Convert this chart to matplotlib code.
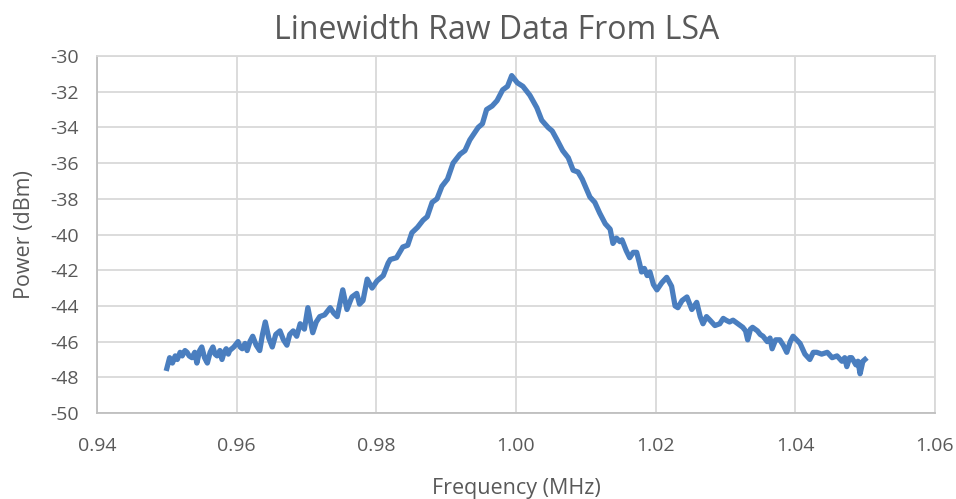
import matplotlib
matplotlib.use("Agg")
import matplotlib.pyplot as plt

# readings (MHz, dBm)
freq = [0.9500, 0.9504, 0.9508, 0.9512, 0.9515, 0.9519, 0.9522, 0.9526, 0.9529, 0.9532,
        0.9536, 0.9540, 0.9543, 0.9547, 0.9550, 0.9554, 0.9558, 0.9562, 0.9566, 0.9569,
        0.9572, 0.9576, 0.9579, 0.9582, 0.9585, 0.9588, 0.9590, 0.9596, 0.9602, 0.9605,
        0.9608, 0.9612, 0.9615, 0.9619, 0.9623, 0.9628, 0.9633, 0.9637, 0.9641, 0.9646,
        0.9651, 0.9656, 0.9662, 0.9667, 0.9672, 0.9676, 0.9681, 0.9686, 0.9691, 0.9697,
        0.9702, 0.9709, 0.9714, 0.9719, 0.9726, 0.9734, 0.9739, 0.9744, 0.9752, 0.9758,
        0.9765, 0.9772, 0.9776, 0.9781, 0.9787, 0.9794, 0.9801, 0.9810, 0.9817, 0.9820,
        0.9829, 0.9838, 0.9845, 0.9851, 0.9859, 0.9867, 0.9873, 0.9880, 0.9887, 0.9894,
        0.9902, 0.9910, 0.9920, 0.9927, 0.9934, 0.9946, 0.9952, 0.9958, 0.9966, 0.9973,
        0.9981, 0.9988, 0.9994, 1.0002, 1.0010, 1.0020, 1.0030, 1.0037, 1.0046, 1.0052,
        1.0059, 1.0067, 1.0075, 1.0082, 1.0089, 1.0095, 1.0106, 1.0113, 1.0120, 1.0128,
        1.0135, 1.0139, 1.0144, 1.0149, 1.0152, 1.0158, 1.0163, 1.0168, 1.0173, 1.0177,
        1.0180, 1.0184, 1.0188, 1.0192, 1.0197, 1.0202, 1.0209, 1.0216, 1.0223, 1.0228,
        1.0232, 1.0238, 1.0245, 1.0252, 1.0259, 1.0264, 1.0268, 1.0273, 1.0278, 1.0285,
        1.0292, 1.0297, 1.0301, 1.0306, 1.0311, 1.0318, 1.0325, 1.0329, 1.0332, 1.0336,
        1.0339, 1.0346, 1.0350, 1.0354, 1.0360, 1.0364, 1.0367, 1.0372, 1.0378, 1.0383,
        1.0388, 1.0393, 1.0397, 1.0402, 1.0407, 1.0414, 1.0421, 1.0426, 1.0431, 1.0438,
        1.0446, 1.0453, 1.0460, 1.0467, 1.0471, 1.0474, 1.0478, 1.0481, 1.0487, 1.0490,
        1.0493, 1.0497, 1.0500]
power = [-47.5, -46.9, -47.2, -46.8, -47.0, -46.6, -46.8, -46.5, -46.6, -46.8,
         -46.9, -46.6, -47.2, -46.5, -46.3, -46.9, -47.2, -46.6, -46.3, -46.7,
         -46.8, -46.5, -47.0, -46.6, -46.4, -46.7, -46.5, -46.3, -46.0, -46.3,
         -46.4, -46.1, -46.5, -46.0, -45.7, -46.2, -46.5, -45.6, -44.9, -45.8,
         -46.3, -45.6, -45.4, -45.9, -46.2, -45.6, -45.4, -45.7, -45.0, -45.3,
         -44.1, -45.5, -44.9, -44.6, -44.5, -44.1, -44.4, -44.6, -43.1, -44.2,
         -43.5, -43.3, -43.9, -43.7, -42.5, -43.0, -42.6, -42.3, -41.6, -41.4,
         -41.3, -40.7, -40.6, -39.9, -39.6, -39.2, -39.0, -38.2, -38.0, -37.3,
         -36.9, -36.0, -35.5, -35.3, -34.7, -34.0, -33.8, -33.0, -32.8, -32.5,
         -31.9, -31.7, -31.1, -31.5, -31.7, -32.2, -32.9, -33.6, -34.0, -34.2,
         -34.7, -35.3, -35.7, -36.4, -36.5, -36.9, -37.9, -38.2, -38.8, -39.4,
         -39.7, -40.5, -40.2, -40.4, -40.3, -40.9, -41.3, -41.0, -41.0, -41.6,
         -42.1, -41.9, -42.3, -42.1, -42.8, -43.1, -42.7, -42.4, -42.9, -44.0,
         -44.1, -43.7, -43.5, -44.2, -43.8, -44.6, -45.0, -44.6, -44.8, -45.1,
         -45.0, -44.7, -44.8, -44.9, -44.8, -45.0, -45.2, -45.4, -45.9, -45.3,
         -45.2, -45.4, -45.6, -45.7, -46.0, -45.8, -46.4, -45.9, -45.9, -46.2,
         -46.6, -46.0, -45.7, -45.9, -46.1, -46.7, -47.0, -46.6, -46.6, -46.7,
         -46.6, -46.9, -46.8, -47.1, -46.9, -47.4, -46.9, -46.9, -47.3, -47.1,
         -47.8, -47.1, -47.0]

x_ticks = [0.94, 0.96, 0.98, 1.00, 1.02, 1.04, 1.06]
y_ticks = [-50, -48, -46, -44, -42, -40, -38, -36, -34, -32, -30]

plt.rcParams["font.family"] = ["Open Sans", "DejaVu Sans"]
txt = "#595959"
grid_c = "#D9D9D9"

fig = plt.figure(figsize=(9.56, 4.99), dpi=100)
ax = fig.add_axes([0.1015, 0.1723, 0.8763, 0.7155])
ax.plot(freq, power, color="#4A7EBF", lw=3.8, solid_joinstyle="round")

ax.set_xlim(0.94, 1.06)
ax.set_ylim(-50, -30)
ax.set_xticks(x_ticks)
ax.set_xticklabels([f"{v:.2f}" for v in x_ticks])
ax.set_yticks(y_ticks)
ax.set_yticklabels([str(v) for v in y_ticks])
ax.grid(True, color=grid_c, lw=1.3)
ax.set_axisbelow(True)
for s in ax.spines.values():
    s.set_color(grid_c)
    s.set_linewidth(1.3)
ax.spines["left"].set_color("#BFBFBF")
ax.spines["bottom"].set_color("#BFBFBF")
ax.tick_params(length=0, labelsize=14, colors=txt)
ax.tick_params(axis="x", pad=17)
ax.tick_params(axis="y", pad=13)

ax.set_xlabel("Frequency (MHz)", fontsize=15.5, color=txt, labelpad=17)
ax.set_ylabel("Power (dBm)", fontsize=15.5, color=txt, labelpad=11)
fig.text(0.52, 0.938, "Linewidth Raw Data From LSA", fontsize=23, color=txt,
         ha="center", va="center")

plt.savefig("out.png", dpi=100)
plt.close()
